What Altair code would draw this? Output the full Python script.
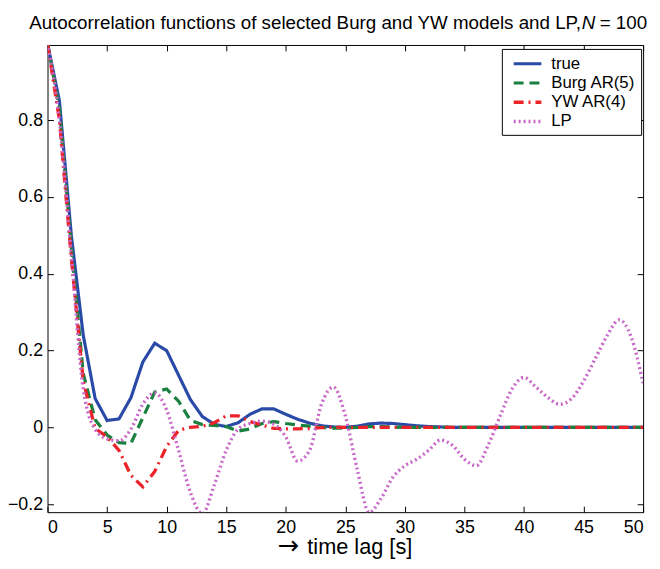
import altair as alt
import pandas as pd

# ---------------- data ----------------
lags = list(range(51))

true_acf = [1.0, 0.85, 0.50, 0.24, 0.075, 0.018, 0.022, 0.077, 0.17, 0.219,
            0.20, 0.136, 0.072, 0.028, 0.008, 0.002, 0.012, 0.034, 0.048, 0.048,
            0.034, 0.021, 0.011, 0.004, 0.001, 0.0, 0.003, 0.009, 0.011, 0.010,
            0.007, 0.004, 0.002, 0.001, 0.0, 0.0, 0.0, 0.0, 0.0, 0.0,
            0.0, 0.0, 0.0, 0.0, 0.0, 0.0, 0.0, 0.0, 0.0, 0.0, 0.0]

burg_acf = [1.0, 0.83, 0.47, 0.14, 0.02, -0.02, -0.04, -0.042, 0.025, 0.092,
            0.10, 0.068, 0.018, 0.007, 0.005, 0.002, -0.01, -0.004, 0.01, 0.015,
            0.01, 0.006, 0.003, 0.0, -0.002, -0.002, 0.0, 0.002, 0.002, 0.001,
            0.0, 0.0, 0.0, 0.0, 0.0, 0.0, 0.0, 0.0, 0.0, 0.0,
            0.0, 0.0, 0.0, 0.0, 0.0, 0.0, 0.0, 0.0, 0.0, 0.0, 0.0]

yw_acf = [1.0, 0.80, 0.44, 0.12, -0.003, -0.025, -0.06, -0.125, -0.155, -0.115,
          -0.05, -0.008, 0.0, 0.003, 0.012, 0.03, 0.03, 0.015, 0.006, -0.003,
          -0.004, -0.004, -0.003, -0.001, 0.0, 0.0, 0.0, 0.0, 0.0, 0.0,
          0.0, 0.0, 0.0, 0.0, 0.0, 0.0, 0.0, 0.0, 0.0, 0.0,
          0.0, 0.0, 0.0, 0.0, 0.0, 0.0, 0.0, 0.0, 0.0, 0.0, 0.0]

lp_acf = [1.0, 0.80, 0.45, 0.10, -0.005, -0.03, -0.035, -0.005, 0.06, 0.09,
          0.045, -0.06, -0.17, -0.225, -0.15, -0.06, -0.005, 0.01, 0.016, 0.008,
          -0.025, -0.088, -0.06, 0.06, 0.105, 0.03, -0.11, -0.222, -0.185, -0.13,
          -0.10, -0.083, -0.06, -0.033, -0.047, -0.083, -0.10, -0.046, 0.03, 0.10,
          0.13, 0.105, 0.078, 0.06, 0.075, 0.12, 0.18, 0.24, 0.28, 0.235, 0.115]

series_names = ["true", "Burg AR(5)", "YW AR(4)", "LP"]
series_colors = ["#2a4aa8", "#1a8040", "#ec2328", "#c966c9"]
series_dashes = [[1, 0], [10, 6], [10, 5, 2, 5], [2, 3]]
series_widths = [3.2, 3.4, 3.4, 2.2]

x_ticks = [0, 5, 10, 15, 20, 25, 30, 35, 40, 45, 50]
y_ticks = [-0.2, 0, 0.2, 0.4, 0.6, 0.8]

title_main = "Autocorrelation functions of selected Burg and YW models and LP,"
title_var = "N"
title_tail = "= 100"
x_arrow = "\u2192"
x_title = "time lag [s]"

# ---------------- layout ----------------
W, H = 603, 473
FONT = "Liberation Sans"

rows = []
for name, vals in zip(series_names, [true_acf, burg_acf, yw_acf, lp_acf]):
    for l, v in zip(lags, vals):
        rows.append({"lag": l, "acf": v, "series": name})
df = pd.DataFrame(rows)
df_main = df[df["series"] != "LP"]
df_lp = df[df["series"] == "LP"]

xscale = alt.Scale(domain=[0, 50], nice=False, zero=False)
yscale = alt.Scale(domain=[-0.221, 0.996], nice=False, zero=False)

# a 28px horizontal line drawn inside a 16px symbol slot keeps legend rows compact
legend = alt.Legend(
    title=None, orient="none", legendX=460, legendY=4,
    symbolType="M-1.75,0H1.75", symbolSize=256, symbolStrokeWidth=3,
    symbolOffset=11, labelOffset=14,
    labelFontSize=17, labelFont=FONT, labelColor="black",
    strokeColor="black", fillColor="white", padding=5, rowPadding=1.5,
)

color = alt.Color("series:N", sort=series_names,
                  scale=alt.Scale(domain=series_names, range=series_colors),
                  legend=legend)
dash = alt.StrokeDash("series:N", sort=series_names,
                      scale=alt.Scale(domain=series_names, range=series_dashes),
                      legend=legend)
swidth = alt.StrokeWidth("series:N",
                         scale=alt.Scale(domain=series_names, range=series_widths),
                         legend=None)

x_axis = alt.Axis(orient="bottom", values=x_ticks, format="d", offset=-6, tickSize=6,
                  domain=False, grid=False, labelFontSize=18, labelFont=FONT,
                  labelColor="black", tickColor="black", labelPadding=7, title=None)
y_axis = alt.Axis(orient="left", values=y_ticks, format="~g", offset=-6, tickSize=6,
                  domain=False, grid=False, labelFontSize=18, labelFont=FONT,
                  labelColor="black", tickColor="black", labelPadding=5, title=None)

main = alt.Chart(df_main).mark_line(clip=True).encode(
    x=alt.X("lag:Q", scale=xscale, axis=x_axis),
    y=alt.Y("acf:Q", scale=yscale, axis=y_axis),
    color=color, strokeDash=dash, strokeWidth=swidth,
)

lp = alt.Chart(df_lp).mark_line(clip=True, interpolate="monotone").encode(
    x=alt.X("lag:Q", scale=xscale, axis=None),
    y=alt.Y("acf:Q", scale=yscale, axis=None),
    color=color, strokeDash=dash, strokeWidth=swidth,
)

frame = alt.Chart(df_main).mark_line(opacity=0).encode(
    x=alt.X("lag:Q", scale=xscale,
            axis=alt.Axis(orient="top", values=x_ticks, labels=False, offset=-6,
                          tickSize=6, domain=False, grid=False, tickColor="black",
                          title=None)),
    y=alt.Y("acf:Q", scale=yscale,
            axis=alt.Axis(orient="right", values=y_ticks, labels=False, offset=-6,
                          tickSize=6, domain=False, grid=False, tickColor="black",
                          title=None)),
)

def label(text, x, y, size, align="left", font=FONT, style="normal"):
    return alt.Chart(pd.DataFrame({"t": [text]})).mark_text(
        align=align, baseline="alphabetic", fontSize=size, font=font,
        fontStyle=style, color="black"
    ).encode(x=alt.value(x), y=alt.value(y), text="t:N")

t1 = label(title_main, 540, -16, 19, align="right")
t2 = label(title_var, 541, -16, 19, style="italic")
t3 = label(title_tail, 559, -16, 19)
xt1 = label(x_arrow, 233, H + 42, 26, font="DejaVu Sans")
xt2 = label(x_title, 263, H + 42, 22)

chart = alt.layer(main, lp, frame, t1, t2, t3, xt1, xt2).resolve_axis(
    x="independent", y="independent"
).properties(
    width=W, height=H,
    autosize=alt.AutoSizeParams(type="none"),
    padding={"left": 40, "top": 34, "right": 9, "bottom": 46},
    background="white",
).configure_view(stroke="black", strokeWidth=1)

chart.save("out.html", embed_options={"renderer": "svg", "actions": False})
